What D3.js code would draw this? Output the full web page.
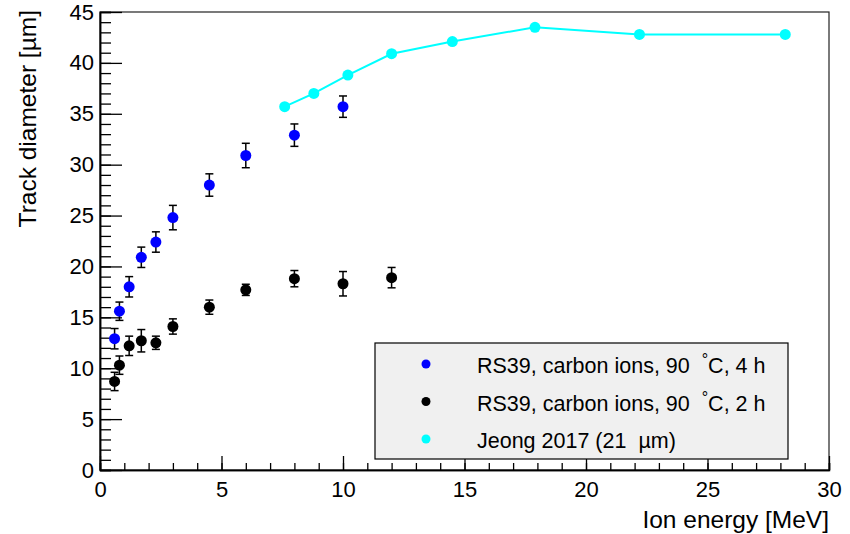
<!DOCTYPE html>
<html>
<head>
<meta charset="utf-8">
<script src="https://cdn.jsdelivr.net/npm/d3@7"></script>
<style>
  body { margin: 0; background: #fff; }
  svg { font-family: "Liberation Sans", Arial, sans-serif; }
  text { white-space: pre; }
</style>
</head>
<body>
<div class="chart"></div>
<script>
// ---------------------------------- DATA
var blueEnergy = [0.6, 0.8, 1.2, 1.7, 2.3, 3.0, 4.5, 6.0, 8.0, 10.0];
var blueDiam   = [12.9, 15.6, 18.0, 20.9, 22.4, 24.8, 28.0, 30.9, 32.9, 35.7];
var blueErr    = [1.0, 0.9, 1.0, 1.0, 1.0, 1.2, 1.1, 1.2, 1.1, 1.05];

var blackEnergy = [0.6, 0.8, 1.2, 1.7, 2.3, 3.0, 4.5, 6.0, 8.0, 10.0, 12.0];
var blackDiam   = [8.7, 10.3, 12.2, 12.7, 12.5, 14.1, 16.0, 17.7, 18.8, 18.3, 18.9];
var blackErr    = [0.9, 0.9, 0.95, 1.1, 0.65, 0.75, 0.7, 0.55, 0.8, 1.2, 1.0];

var jeongEnergy = [7.6, 8.8, 10.2, 12.0, 14.5, 17.9, 22.2, 28.2];
var jeongDiam   = [35.7, 37.0, 38.8, 40.9, 42.1, 43.5, 42.8, 42.8];

// legend labels split round the superscript degree sign
var legendPre  = ["RS39, carbon ions, 90  ", "RS39, carbon ions, 90  ", "Jeong 2017 (21  µm)"];
var legendSup  = ["°", "°", ""];
var legendPost = ["C, 4 h", "C, 2 h", ""];
var legendColors = ["#0000ff", "#000000", "#00ffff"];

var xTicks = [0, 5, 10, 15, 20, 25, 30];
var yTicks = [0, 5, 10, 15, 20, 25, 30, 35, 40, 45];

// ---------------------------------- SETUP
var width = 850, height = 534;
var margin = {left: 100, right: 21, top: 12, bottom: 64};

var svg = d3.select(".chart").append("svg")
  .attr("width", width)
  .attr("height", height);

var x = d3.scaleLinear().domain([0, 30]).range([margin.left, width - margin.right]);
var y = d3.scaleLinear().domain([0, 45]).range([height - margin.bottom, margin.top]);

// frame
svg.append("rect")
  .attr("x", x(0)).attr("y", y(45))
  .attr("width", x(30) - x(0)).attr("height", y(0) - y(45))
  .attr("fill", "none").attr("stroke", "#222").attr("stroke-width", 1.2);

// ---------------------------------- AXES (ticks inside, ROOT style)
var xAxis = d3.axisBottom(x).tickValues(d3.range(0, 31, 1)).tickSize(-7).tickFormat("");
var xMajor = d3.axisBottom(x).tickValues(xTicks).tickSize(-14).tickPadding(11).tickSizeOuter(0);
var yAxis = d3.axisLeft(y).tickValues(d3.range(0, 46, 1)).tickSize(-11).tickFormat("");
var yMajor = d3.axisLeft(y).tickValues(yTicks).tickSize(-22).tickPadding(6).tickSizeOuter(0);

svg.append("g").attr("transform", "translate(0," + y(0) + ")").call(xAxis);
svg.append("g").attr("class", "xmaj").attr("transform", "translate(0," + y(0) + ")").call(xMajor);
svg.append("g").attr("transform", "translate(" + x(0) + ",0)").call(yAxis);
svg.append("g").attr("class", "ymaj").attr("transform", "translate(" + x(0) + ",0)").call(yMajor);

svg.selectAll(".domain").attr("stroke", "#000").attr("stroke-width", 1.5);
svg.selectAll(".tick line").attr("stroke", "#000").attr("stroke-width", 1.3);
svg.selectAll(".tick text")
  .attr("font-family", "Liberation Sans, Arial, sans-serif")
  .attr("font-size", 22).attr("fill", "#000");

// axis titles
svg.append("text")
  .attr("x", x(30)).attr("y", 528)
  .attr("text-anchor", "end").attr("font-size", 24.5)
  .text("Ion energy [MeV]");

svg.append("text")
  .attr("transform", "translate(36,10) rotate(-90)")
  .attr("text-anchor", "end").attr("font-size", 24.5)
  .text("Track diameter [µm]");

// ---------------------------------- JEONG LINE
var jeong = jeongEnergy.map(function(e, i){ return {x: e, y: jeongDiam[i]}; });
var line = d3.line()
  .x(function(d){ return x(d.x); })
  .y(function(d){ return y(d.y); });

svg.append("path")
  .attr("d", line(jeong))
  .attr("fill", "none").attr("stroke", "#00ffff").attr("stroke-width", 2);

// ---------------------------------- ERROR BARS + MARKERS
function drawSeries(energy, diam, err, color) {
  var data = energy.map(function(e, i){ return {x: e, y: diam[i], e: err ? err[i] : 0}; });
  if (err) {
    var g = svg.append("g").attr("stroke", "#000").attr("stroke-width", 1.5);
    g.selectAll("line.bar").data(data).enter().append("line")
      .attr("x1", function(d){ return x(d.x); })
      .attr("x2", function(d){ return x(d.x); })
      .attr("y1", function(d){ return y(d.y - d.e); })
      .attr("y2", function(d){ return y(d.y + d.e); });
    g.selectAll("line.top").data(data).enter().append("line")
      .attr("x1", function(d){ return x(d.x) - 4; })
      .attr("x2", function(d){ return x(d.x) + 4; })
      .attr("y1", function(d){ return y(d.y + d.e); })
      .attr("y2", function(d){ return y(d.y + d.e); });
    g.selectAll("line.bot").data(data).enter().append("line")
      .attr("x1", function(d){ return x(d.x) - 4; })
      .attr("x2", function(d){ return x(d.x) + 4; })
      .attr("y1", function(d){ return y(d.y - d.e); })
      .attr("y2", function(d){ return y(d.y - d.e); });
  }
  svg.append("g").selectAll("circle").data(data).enter().append("circle")
    .attr("cx", function(d){ return x(d.x); })
    .attr("cy", function(d){ return y(d.y); })
    .attr("r", 5.5)
    .attr("fill", color);
}

drawSeries(blueEnergy, blueDiam, blueErr, "#0000ff");
drawSeries(blackEnergy, blackDiam, blackErr, "#000000");
drawSeries(jeongEnergy, jeongDiam, null, "#00ffff");

// ---------------------------------- LEGEND
var legend = svg.append("g").attr("transform", "translate(375,343)");
legend.append("rect")
  .attr("width", 413).attr("height", 116)
  .attr("fill", "#f0f0f0").attr("stroke", "#000").attr("stroke-width", 1.2);

var rows = legend.selectAll("g.row").data(legendPre).enter().append("g")
  .attr("transform", function(d, i){ return "translate(0," + (21 + i * 37.5) + ")"; });
rows.append("circle")
  .attr("cx", 51).attr("cy", 0).attr("r", 4.5)
  .attr("fill", function(d, i){ return legendColors[i]; });
var txt = rows.append("text")
  .attr("x", 102).attr("y", 9).attr("font-size", 21.5);
txt.append("tspan").text(function(d){ return d; });
txt.append("tspan").attr("dy", -8).attr("font-size", 16)
  .text(function(d, i){ return legendSup[i]; });
txt.append("tspan").attr("dy", 8)
  .text(function(d, i){ return legendPost[i]; });
</script>
</body>
</html>
